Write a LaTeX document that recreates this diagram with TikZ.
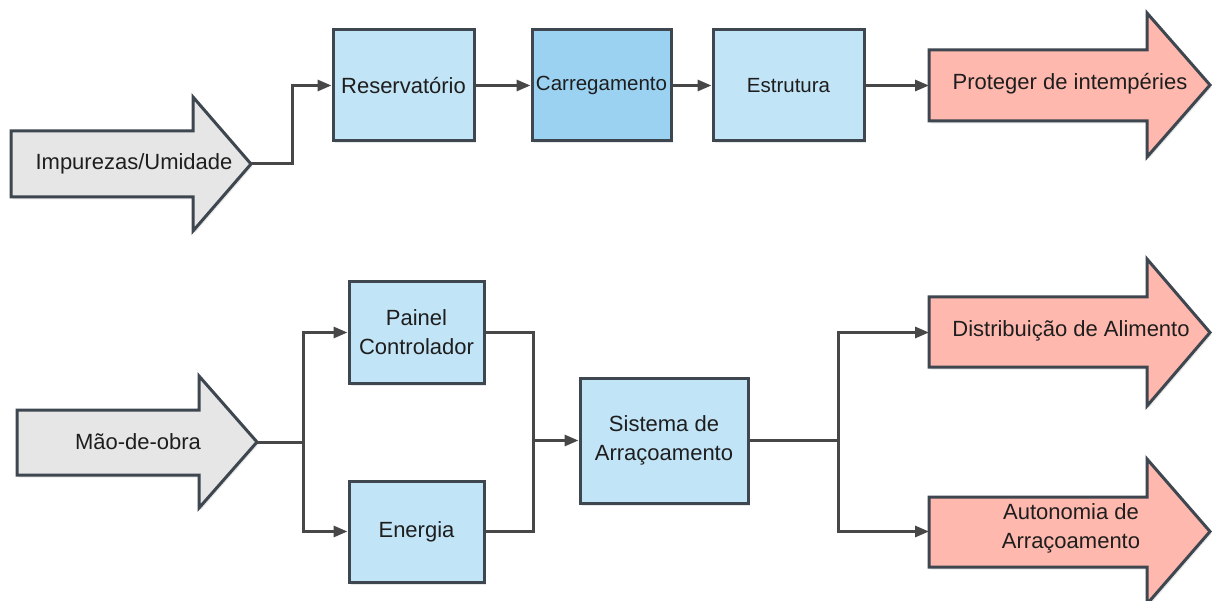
\documentclass[tikz,border=0pt]{standalone}
\usepackage{fontspec}
\setmainfont{Liberation Sans}
\usetikzlibrary{arrows.meta,shadows}
\definecolor{boxblue}{HTML}{C2E4F7}
\definecolor{boxdark}{HTML}{9BD2F2}
\definecolor{greyfill}{HTML}{E6E6E6}
\definecolor{pinkfill}{HTML}{FFB8AE}
\definecolor{edge}{HTML}{3E4650}
\definecolor{wire}{HTML}{474747}
\definecolor{ink}{HTML}{1E1E1E}
\begin{document}
\begin{tikzpicture}[x=1pt,y=-1pt,
  shade/.style={drop shadow={opacity=0.18,shadow xshift=1.5pt,shadow yshift=-2.5pt}},
  box/.style={draw=edge,line width=3pt,fill=boxblue,inner sep=0pt,align=center,
    text=ink,font=\fontsize{22}{29}\selectfont,shade},
  barrow/.style={draw=edge,line width=3pt,line join=miter,shade},
  btext/.style={inner sep=0pt,align=center,text=ink,font=\fontsize{22}{29}\selectfont},
  line/.style={draw=wire,line width=3pt},
  conn/.style={line,-{Triangle[length=14pt,width=11pt]}}]
\useasboundingbox[fill=white] (0,0) rectangle (1212,601);

% top row boxes
\node[box,minimum width=141pt,minimum height=111pt] (res) at (403.5,85.5) {Reservatório};
\node[box,fill=boxdark,minimum width=139pt,minimum height=111pt,font=\fontsize{20.5}{28}\selectfont] (car) at (601.5,85.5) {Carregamento};
\node[box,minimum width=151pt,minimum height=111pt,font=\fontsize{20.5}{28}\selectfont] (est) at (788.5,85.5) {Estrutura};

% bottom boxes
\node[box,minimum width=135pt,minimum height=101pt] (painel) at (416.5,332.5) {Painel\\Controlador};
\node[box,minimum width=135pt,minimum height=101pt] (energia) at (416.5,531.5) {Energia};
\node[box,minimum width=168pt,minimum height=125pt] (sis) at (664,440.5) {Sistema de\\Arraçoamento};

% block arrows
\draw[barrow,fill=greyfill] (11,131) -- (193,131) -- (193,97) -- (251,164) -- (193,231) -- (193,197) -- (11,197) -- cycle;
\node[btext] (imp) at (134,164) {Impurezas/Umidade};
\coordinate (impTip) at (251,164);

\draw[barrow,fill=pinkfill] (929,50) -- (1147,50) -- (1147,13) -- (1210,85) -- (1147,157) -- (1147,121) -- (929,121) -- cycle;
\node[btext] (prot) at (1070,84) {Proteger de intempéries};
\coordinate (protTail) at (929,85.5);

\draw[barrow,fill=greyfill] (17,410) -- (199,410) -- (199,376) -- (257,442) -- (199,508) -- (199,475) -- (17,475) -- cycle;
\node[btext] (mao) at (138,442) {Mão-de-obra};
\coordinate (maoTip) at (257,442);

\draw[barrow,fill=pinkfill] (929,297) -- (1147,297) -- (1147,259) -- (1210,332.5) -- (1147,406) -- (1147,367) -- (929,367) -- cycle;
\node[btext] (dist) at (1071,331) {Distribuição de Alimento};
\coordinate (distTail) at (929,332.5);

\draw[barrow,fill=pinkfill] (929,497) -- (1147,497) -- (1147,459) -- (1210,531.5) -- (1147,604) -- (1147,567) -- (929,567) -- cycle;
\node[btext] (auto) at (1071,528) {Autonomia de\\Arraçoamento};
\coordinate (autoTail) at (929,531.5);

% connectors top
\draw[conn] (impTip) -| (292,120) |- (res.west);
\draw[conn] (res.east) -- (car.west);
\draw[conn] (car.east) -- (est.west);
\draw[conn] (est.east) -- (protTail);

% connectors bottom
\coordinate (j1) at (303,442);
\coordinate (j2) at (533,440.5);
\coordinate (j3) at (838,440.5);
\draw[line] (maoTip) -- (j1);
\draw[conn] (j1) |- (painel.west);
\draw[conn] (j1) |- (energia.west);
\draw[line] (painel.east) -| (j2) |- (energia.east);
\draw[conn] (j2) -- (sis.west);
\draw[line] (sis.east) -- (j3);
\draw[conn] (j3) |- (distTail);
\draw[conn] (j3) |- (autoTail);
\end{tikzpicture}
\end{document}
